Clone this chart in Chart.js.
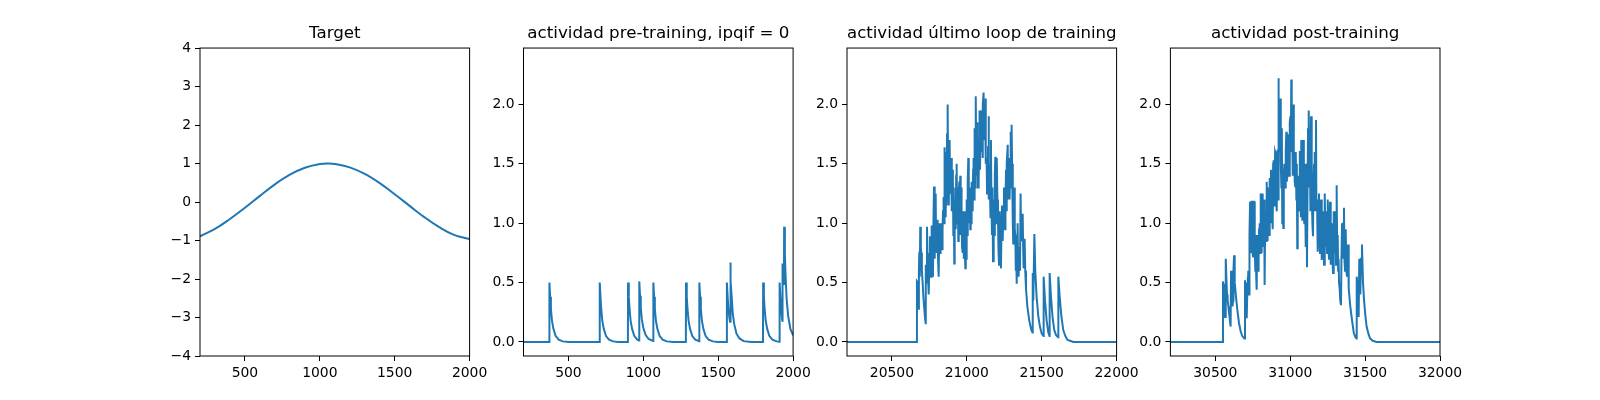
<!DOCTYPE html>
<html>
<head>
<meta charset="utf-8">
<script src="https://cdn.jsdelivr.net/npm/chart.js@4.4.0/dist/chart.umd.min.js"></script>
<style>
  body { margin: 0; background: #fff; }
  #wrap { position: relative; width: 1600px; height: 400px; overflow: hidden; background: #fff; }
  canvas { position: absolute; top: 0; }
</style>
</head>
<body>
<div id="wrap"></div>
<script>
// ---- data ----
const titles = ['Target', 'actividad pre-training, ipqif = 0', 'actividad último loop de training', 'actividad post-training'];

const targetX = [200, 300, 400, 500, 600, 700, 800, 900, 1000, 1055, 1100, 1200, 1300, 1400, 1500, 1600, 1700, 1800, 1900, 2000];
const targetY = [-0.89, -0.70, -0.44, -0.15, 0.16, 0.46, 0.71, 0.89, 0.985, 1.0, 0.99, 0.90, 0.73, 0.49, 0.20, -0.10, -0.40, -0.66, -0.86, -0.96];

const preX = [200, 372, 373, 378, 383, 390, 400, 415, 435, 463, 500,
  708, 709, 714, 719, 726, 736, 751, 771, 799, 830,
  897, 898, 903, 908, 915, 925, 940, 960, 972,
  973, 978, 983, 990, 1000, 1015, 1035, 1066,
  1067, 1072, 1077, 1084, 1094, 1109, 1129, 1157, 1200,
  1284, 1285, 1290, 1295, 1302, 1312, 1327, 1347, 1373,
  1374, 1379, 1384, 1391, 1401, 1416, 1436, 1464, 1500,
  1557, 1558, 1563, 1568, 1575, 1579,
  1580, 1585, 1590, 1597, 1607, 1622, 1642, 1670, 1720,
  1799, 1800, 1805, 1810, 1817, 1827, 1842, 1862, 1890, 1909,
  1910, 1915, 1920, 1927, 1929, 1930, 1935, 1939,
  1940, 1945, 1950, 1957, 1967, 1982, 2000];
const preY = [0, 0, 0.5, 0.38, 0.28, 0.18, 0.11, 0.05, 0.02, 0.005, 0,
  0, 0.5, 0.38, 0.28, 0.18, 0.11, 0.05, 0.02, 0.005, 0,
  0, 0.5, 0.38, 0.28, 0.18, 0.11, 0.05, 0.02, 0.012,
  0.51, 0.39, 0.29, 0.19, 0.12, 0.06, 0.025, 0.008,
  0.5, 0.38, 0.28, 0.18, 0.11, 0.05, 0.02, 0.005, 0,
  0, 0.5, 0.38, 0.28, 0.18, 0.11, 0.05, 0.02, 0.007,
  0.5, 0.38, 0.28, 0.18, 0.11, 0.05, 0.02, 0.005, 0,
  0, 0.5, 0.38, 0.28, 0.2, 0.17,
  0.67, 0.51, 0.38, 0.24, 0.15, 0.07, 0.03, 0.007, 0,
  0, 0.5, 0.38, 0.28, 0.18, 0.11, 0.05, 0.02, 0.005, 0.002,
  0.5, 0.38, 0.28, 0.19, 0.17, 0.66, 0.55, 0.48,
  0.97, 0.74, 0.55, 0.36, 0.22, 0.11, 0.055];

const lastX = [20200, 20666, 20667, 20672, 20676, 20680, 20683, 20686, 20689, 20693, 20696, 20700, 20705, 20710, 20716,
  20721, 20725, 20727, 20730, 20734, 20738, 20741, 20744, 20747, 20751, 20754, 20757, 20761, 20764, 20767, 20771,
  20774, 20777, 20781, 20784, 20787, 20790, 20792, 20795, 20798, 20801, 20805, 20808, 20812, 20815, 20818, 20821,
  20825, 20828, 20832, 20835, 20838, 20841, 20845, 20848, 20850, 20853, 20856, 20859, 20862, 20865, 20868, 20872,
  20875, 20878, 20881, 20885, 20888, 20892, 20895, 20898, 20901, 20904, 20907, 20910, 20913, 20916, 20919, 20923,
  20926, 20929, 20932, 20935, 20939, 20941, 20943, 20946, 20950, 20953, 20956, 20959, 20962, 20965, 20968, 20971,
  20974, 20977, 20980, 20983, 20986, 20990, 20993, 20996, 20999, 21002, 21006, 21010, 21013, 21016, 21019, 21023,
  21026, 21029, 21032, 21035, 21039, 21042, 21045, 21048, 21052, 21055, 21058, 21061, 21064, 21068, 21070, 21072,
  21075, 21079, 21082, 21085, 21088, 21092, 21095, 21099, 21102, 21105, 21108, 21112, 21115, 21119, 21122, 21125,
  21128, 21132, 21135, 21139, 21142, 21145, 21148, 21151, 21154, 21158, 21161, 21164, 21168, 21171, 21175, 21178,
  21181, 21184, 21187, 21190, 21193, 21197, 21199, 21201, 21204, 21208, 21211, 21215, 21218, 21221, 21224, 21228,
  21231, 21235, 21238, 21241, 21244, 21248, 21251, 21255, 21258, 21262, 21265, 21268, 21273, 21276, 21279, 21282,
  21284, 21287, 21290, 21293, 21296, 21299, 21302, 21306, 21308, 21310, 21313, 21317, 21320, 21324, 21327, 21330,
  21333, 21336, 21339, 21342, 21346, 21350, 21355, 21359, 21362, 21366, 21369, 21373, 21376, 21379, 21383, 21386,
  21390, 21395, 21404, 21417, 21431, 21439, 21440, 21444, 21451, 21457, 21466, 21477, 21488, 21500, 21512, 21513,
  21522, 21533, 21544, 21552, 21553, 21562, 21573, 21584, 21595, 21610, 21611, 21620, 21631, 21644, 21658, 21671,
  21689, 21711, 22000];
const lastY = [0, 0, 0.51, 0.5, 0.28, 0.6, 0.76, 0.55, 0.97, 0.8, 0.75, 0.6, 0.5, 0.38, 0.28,
  0.2, 0.15, 0.65, 0.5, 0.97, 0.7, 0.55, 0.75, 0.4, 0.7, 0.89, 0.62, 0.55, 0.9, 0.98, 0.6,
  0.55, 1.0, 1.31, 0.8, 0.7, 1.1, 1.25, 0.8, 0.75, 0.95, 1.03, 0.7, 0.55, 0.85, 1.0, 0.75,
  0.8, 1.0, 1.0, 0.78, 0.95, 1.1, 1.22, 1.0, 1.64, 1.2, 1.45, 1.05, 1.6, 1.15, 1.75, 2.0,
  1.4, 1.5, 1.15, 1.7, 1.3, 1.25, 1.55, 1.1, 1.1, 1.45, 1.35, 0.9, 1.3, 0.66, 1.05, 1.2,
  0.95, 1.4, 1.5, 1.0, 1.0, 1.3, 0.85, 1.25, 1.35, 0.95, 1.4, 0.9, 1.3, 1.05, 0.8, 1.1,
  0.75, 1.05, 0.7, 1.1, 0.8, 0.62, 0.95, 0.7, 1.2, 0.9, 1.35, 1.55, 1.0, 1.05, 1.3, 0.95,
  1.25, 1.0, 1.35, 1.15, 1.1, 1.45, 1.55, 1.2, 1.8, 1.3, 1.6, 2.07, 1.4, 1.5, 1.85, 1.75,
  1.3, 1.35, 1.7, 1.95, 1.45, 1.45, 1.95, 1.6, 1.85, 1.55, 2.0, 2.1, 1.75, 1.7, 2.0, 2.05,
  1.5, 1.55, 1.25, 1.3, 1.65, 1.9, 1.2, 1.5, 1.3, 1.05, 1.7, 1.2, 0.9, 1.3, 0.68, 1.0,
  1.2, 0.9, 1.4, 1.56, 1.1, 1.0, 1.3, 1.55, 1.2, 1.05, 0.8, 0.65, 0.95, 1.1, 0.8, 0.62,
  0.9, 1.15, 0.95, 0.85, 1.1, 1.3, 1.0, 0.95, 1.2, 1.45, 1.1, 1.5, 1.66, 1.3, 1.2, 1.45,
  1.55, 1.2, 1.5, 1.77, 1.3, 1.83, 1.5, 1.25, 1.0, 0.83, 1.1, 1.3, 0.95, 0.9, 0.6, 0.75,
  0.49, 0.8, 1.0, 0.7, 0.55, 0.8, 0.6, 1.25, 0.9, 0.85, 1.0, 1.08, 0.8, 0.62, 0.75, 0.87,
  0.6, 0.45, 0.3, 0.18, 0.1, 0.08, 0.58, 0.35, 0.91, 0.6, 0.38, 0.22, 0.13, 0.07, 0.05, 0.55,
  0.35, 0.18, 0.08, 0.05, 0.58, 0.38, 0.2, 0.1, 0.06, 0.04, 0.55, 0.38, 0.22, 0.1, 0.05, 0.02,
  0.01, 0, 0];

const postX = [30200, 30550, 30551, 30555, 30558, 30562, 30565, 30568, 30571, 30575, 30578, 30582, 30587, 30591,
  30596, 30599, 30602, 30605, 30608, 30611, 30615, 30618, 30621, 30625, 30628, 30631, 30638, 30647, 30658, 30669,
  30680, 30694, 30698, 30701, 30705, 30708, 30711, 30714, 30716, 30718, 30720, 30723, 30725, 30728,
  30732, 30735, 30738, 30741, 30745, 30748, 30752, 30755, 30760, 30763, 30767, 30770, 30773, 30776, 30779, 30783,
  30786, 30789, 30792, 30796, 30799, 30803, 30806, 30809, 30812, 30816, 30819, 30823, 30826, 30829, 30832, 30836,
  30839, 30843, 30846, 30849, 30852, 30856, 30859, 30863, 30866, 30869, 30872, 30876, 30879, 30883, 30886, 30889,
  30892, 30896, 30899, 30903, 30906, 30910, 30913, 30916, 30919, 30921, 30924, 30927, 30930, 30934, 30937, 30941,
  30944, 30947, 30950, 30954, 30957, 30961, 30964, 30967, 30970, 30974, 30977, 30981, 30984, 30987, 30990, 30994,
  30997, 31001, 31004, 31007, 31010, 31014, 31017, 31021, 31024, 31027, 31030, 31034, 31037, 31041, 31044, 31047,
  31050, 31054, 31057, 31061, 31064, 31068, 31071, 31074, 31077, 31081, 31084, 31088, 31091, 31094, 31097, 31099,
  31102, 31105, 31108, 31112, 31115, 31119, 31122, 31125, 31128, 31132, 31135, 31139, 31142, 31145, 31148, 31152,
  31155, 31159, 31162, 31165, 31168, 31172, 31175, 31179, 31182, 31185, 31188, 31192, 31195, 31199, 31202, 31206,
  31209, 31212, 31215, 31219, 31222, 31226, 31229, 31232, 31235, 31239, 31242, 31246, 31249, 31252, 31255, 31259,
  31262, 31266, 31269, 31272, 31275, 31279, 31282, 31286, 31289, 31292, 31295, 31299, 31302, 31306, 31310, 31313,
  31317, 31320, 31323, 31326, 31330, 31334, 31339, 31342, 31346, 31349, 31352, 31355, 31359, 31362, 31366, 31369,
  31372, 31375, 31379, 31382, 31386, 31389, 31392, 31401, 31413, 31424, 31435, 31443, 31444, 31450, 31457, 31461,
  31468, 31473, 31479, 31486, 31493, 31502, 31510, 31522, 31533, 31551, 31577, 32000];
const postY = [0, 0, 0.51, 0.45, 0.49, 0.3, 0.21, 0.5, 0.7, 0.5, 0.4, 0.35, 0.3, 0.25,
  0.2, 0.16, 0.13, 0.6, 0.5, 0.45, 0.3, 0.35, 0.6, 0.73, 0.6, 0.5, 0.38, 0.27, 0.16, 0.09,
  0.05, 0.03, 0.52, 0.4, 0.5, 0.3, 0.2, 0.45, 0.55, 0.4, 0.6, 0.5, 0.4, 0.9,
  1.18, 0.8, 0.75, 1.18, 1.18, 0.75, 0.72, 1.18, 1.18, 0.8, 0.6, 0.9, 0.55, 0.44, 0.8, 0.9,
  0.6, 0.7, 0.95, 1.0, 0.75, 1.25, 0.9, 0.75, 1.1, 1.25, 0.85, 0.8, 1.2, 0.48, 0.9, 1.1,
  0.85, 1.35, 1.0, 0.85, 1.3, 1.1, 0.9, 1.38, 1.1, 1.0, 1.45, 1.3, 1.1, 0.95, 1.5, 1.53,
  1.15, 1.3, 1.6, 1.58, 1.2, 1.1, 1.6, 1.62, 1.2, 2.22, 1.9, 1.6, 2.0, 2.05, 1.5, 1.3,
  1.8, 1.0, 1.4, 0.96, 1.4, 1.5, 1.3, 1.3, 1.6, 1.77, 1.35, 1.4, 1.65, 1.75, 1.4, 1.4,
  1.85, 1.9, 1.6, 2.21, 1.8, 1.7, 1.4, 2.0, 1.5, 1.6, 1.35, 1.31, 1.6, 1.2, 1.5, 0.79,
  1.1, 1.4, 1.1, 1.2, 1.6, 1.6, 1.05, 1.7, 1.2, 1.03, 1.45, 1.7, 1.1, 1.0, 1.5, 1.3,
  0.8, 1.1, 1.5, 0.63, 1.2, 1.8, 1.3, 1.95, 1.4, 1.5, 1.1, 1.9, 1.2, 1.3, 1.0, 0.89,
  1.35, 1.5, 1.1, 1.6, 1.2, 1.87, 1.1, 1.2, 0.9, 0.76, 1.1, 1.25, 0.9, 0.75, 1.1, 1.2,
  0.85, 0.69, 1.0, 1.1, 0.8, 0.65, 1.0, 1.25, 0.8, 0.9, 1.1, 0.75, 1.0, 1.2, 0.8, 0.7,
  1.0, 1.18, 0.8, 0.65, 0.9, 1.0, 0.7, 0.58, 0.9, 1.1, 0.75, 0.8, 1.1, 0.65, 1.32, 0.85,
  0.9, 0.6, 0.7, 0.5, 0.45, 0.35, 0.31, 0.7, 1.0, 0.7, 0.85, 1.0, 1.13, 0.7, 0.6, 0.8,
  0.95, 0.6, 0.55, 0.7, 0.82, 0.6, 0.45, 0.3, 0.18, 0.08, 0.04, 0.03, 0.55, 0.45, 0.21, 0.7,
  0.4, 0.7, 0.82, 0.5, 0.35, 0.22, 0.13, 0.07, 0.03, 0.01, 0, 0];

// x ranges and ticks
const xMins = [200, 200, 20200, 30200];
const xMaxs = [2000, 2000, 22000, 32000];
const xTicks = [
  [500, 1000, 1500, 2000],
  [500, 1000, 1500, 2000],
  [20500, 21000, 21500, 22000],
  [30500, 31000, 31500, 32000]
];
const yTicksTarget = [-4, -3, -2, -1, 0, 1, 2, 3, 4];
const yTicksAct = [0.0, 0.5, 1.0, 1.5, 2.0];

// ---- layout (matplotlib default subplot geometry) ----
const axLeft = [200, 523.5, 847, 1170.4];
const axWidth = 269.6;
const blue = '#1f77b4';

Chart.defaults.font.family = '"DejaVu Sans", sans-serif';

const frame = {
  id: 'frame',
  afterDraw(chart) {
    const a = chart.chartArea;
    const c = chart.ctx;
    c.save();
    c.strokeStyle = '#000';
    c.lineWidth = 1;
    c.strokeRect(a.left, a.top, a.right - a.left, a.bottom - a.top);
    c.restore();
  }
};

const series = [
  { x: targetX, y: targetY, smooth: true },
  { x: preX, y: preY },
  { x: lastX, y: lastY },
  { x: postX, y: postY }
];

const wrap = document.getElementById('wrap');

series.forEach((s, i) => {
  const cLeft = Math.floor(axLeft[i] - 62);
  const yW = axLeft[i] - cLeft;
  const cW = Math.ceil(yW + axWidth + 34);
  const canvas = document.createElement('canvas');
  canvas.width = cW;
  canvas.height = 400;
  canvas.style.left = cLeft + 'px';
  canvas.style.width = cW + 'px';
  canvas.style.height = '400px';
  wrap.appendChild(canvas);

  const pts = s.x.map((v, k) => ({ x: v, y: s.y[k] }));
  const yT = i === 0 ? yTicksTarget : yTicksAct;

  new Chart(canvas, {
    type: 'line',
    data: {
      datasets: [{
        data: pts,
        borderColor: blue,
        borderWidth: 2,
        pointRadius: 0,
        tension: s.smooth ? 0.4 : 0,
        fill: false
      }]
    },
    options: {
      responsive: false,
      animation: false,
      devicePixelRatio: 1,
      layout: { padding: { top: 24, left: 0, bottom: 0, right: cW - yW - axWidth } },
      plugins: {
        legend: { display: false },
        tooltip: { enabled: false },
        title: {
          display: true,
          text: titles[i],
          color: '#000',
          fullSize: false,
          font: { size: 16.7, weight: 'normal' },
          padding: { top: 0, bottom: 4 }
        }
      },
      scales: {
        x: {
          type: 'linear',
          min: xMins[i],
          max: xMaxs[i],
          afterBuildTicks: ax => { ax.ticks = xTicks[i].map(v => ({ value: v })); },
          afterFit: ax => { ax.height = 44; },
          border: { display: false },
          grid: { drawOnChartArea: false, drawTicks: true, tickLength: 5, tickColor: '#000', color: '#000' },
          ticks: { color: '#000', font: { size: 13.9 }, padding: 4, autoSkip: false, maxRotation: 0,
            callback: v => String(v) }
        },
        y: {
          type: 'linear',
          min: i === 0 ? -4 : -0.118,
          max: i === 0 ? 4 : 2.475,
          afterBuildTicks: ax => { ax.ticks = yT.map(v => ({ value: v })); },
          afterFit: ax => { ax.width = yW; },
          border: { display: false },
          grid: { drawOnChartArea: false, drawTicks: true, tickLength: 5, tickColor: '#000', color: '#000' },
          ticks: { color: '#000', font: { size: 13.9 }, padding: 4, autoSkip: false,
            callback: v => i === 0 ? (v < 0 ? '\u2212' + (-v) : String(v)) : v.toFixed(1) }
        }
      }
    },
    plugins: [frame]
  });
});
</script>
</body>
</html>
